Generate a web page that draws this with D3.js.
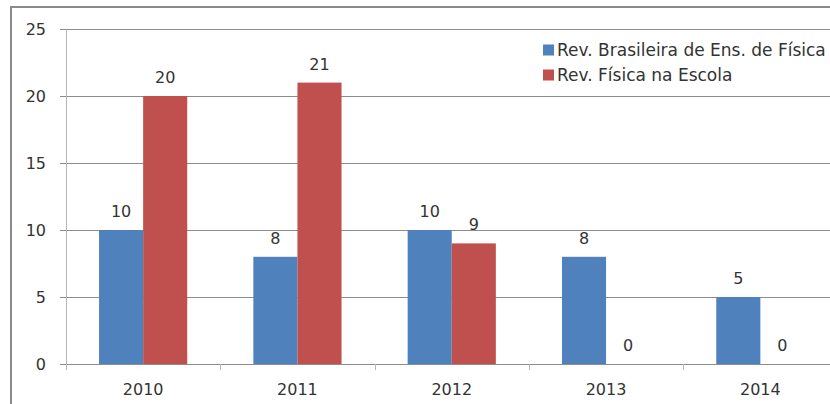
<!DOCTYPE html>
<meta charset="utf-8">
<style>
  body { margin: 0; background: #fff; }
  svg { display: block; font-family: "DejaVu Sans", sans-serif; }
  .grid line { stroke: #8c8c8c; stroke-width: 1; }
  .axis text { fill: #333; font-size: 16px; }
  .lbl { fill: #333; font-size: 16px; text-anchor: middle; }
  .legend text { fill: #333; font-size: 17px; }
</style>
<body>
<script src="https://d3js.org/d3.v7.min.js"></script>
<script>
var years = ["2010", "2011", "2012", "2013", "2014"];
var seriesNames = ["Rev. Brasileira de Ens. de Física", "Rev. Física na Escola"];
var rbef = [10, 8, 10, 8, 5];
var fne = [20, 21, 9, 0, 0];
var yTicks = [0, 5, 10, 15, 20, 25];
var colors = ["#4f81bd", "#c0504d"];

var width = 830, height = 404;

var svg = d3.select("body").append("svg")
    .attr("width", width)
    .attr("height", height);

// outer frame (runs off the right and bottom edges)
svg.append("rect")
    .attr("x", 11).attr("y", 7)
    .attr("width", 900).attr("height", 450)
    .attr("fill", "none")
    .attr("stroke", "#8a8a8a")
    .attr("stroke-width", 2);

var x0 = 66, catW = 154.3;
var x = d3.scaleBand()
    .domain(years)
    .range([x0, x0 + catW * years.length])
    .paddingInner(0)
    .paddingOuter(0);

var x1 = d3.scaleBand()
    .domain([0, 1])
    .range([0, x.bandwidth()])
    .paddingOuter(0.75)
    .paddingInner(0);

var y = d3.scaleLinear()
    .domain([0, 25])
    .range([364, 29]);

// gridlines
svg.append("g").attr("class", "grid")
  .selectAll("line")
    .data(yTicks)
  .enter().append("line")
    .attr("x1", 60).attr("x2", width)
    .attr("y1", function(d) { return Math.round(y(d)) + 0.5; })
    .attr("y2", function(d) { return Math.round(y(d)) + 0.5; });

// y axis line
svg.append("line")
    .attr("x1", x0 + 0.5).attr("x2", x0 + 0.5)
    .attr("y1", y(25)).attr("y2", y(0) + 6)
    .attr("stroke", "#b5b5b5");

// category ticks
svg.append("g")
  .selectAll("line")
    .data(years.slice(1))
  .enter().append("line")
    .attr("x1", function(d) { return Math.round(x(d)) + 0.5; })
    .attr("x2", function(d) { return Math.round(x(d)) + 0.5; })
    .attr("y1", y(0)).attr("y2", y(0) + 6)
    .attr("stroke", "#b5b5b5");

// y tick labels
svg.append("g").attr("class", "axis")
  .selectAll("text")
    .data(yTicks)
  .enter().append("text")
    .attr("x", 46)
    .attr("y", function(d) { return y(d); })
    .attr("dy", "0.36em")
    .attr("text-anchor", "end")
    .text(function(d) { return d; });

// x labels
svg.append("g").attr("class", "axis")
  .selectAll("text")
    .data(years)
  .enter().append("text")
    .attr("x", function(d) { return x(d) + x.bandwidth() / 2; })
    .attr("y", 395)
    .attr("text-anchor", "middle")
    .text(function(d) { return d; });

var series = [rbef, fne];

series.forEach(function(vals, s) {
  var g = svg.append("g");
  g.selectAll("rect")
      .data(vals)
    .enter().append("rect")
      .attr("x", function(d, i) { return x(years[i]) + x1(s); })
      .attr("y", function(d) { return y(d); })
      .attr("width", x1.bandwidth())
      .attr("height", function(d) { return y(0) - y(d); })
      .attr("fill", colors[s]);

  g.selectAll("text")
      .data(vals)
    .enter().append("text")
      .attr("class", "lbl")
      .attr("x", function(d, i) { return x(years[i]) + x1(s) + x1.bandwidth() / 2; })
      .attr("y", function(d) { return y(d) - 13; })
      .text(function(d) { return d; });
});

// legend
var legend = svg.append("g").attr("class", "legend")
  .selectAll("g")
    .data(seriesNames)
  .enter().append("g")
    .attr("transform", function(d, i) { return "translate(543," + (50 + i * 25) + ")"; });

legend.append("rect")
    .attr("x", 0).attr("y", -5.5)
    .attr("width", 11).attr("height", 11)
    .attr("fill", function(d, i) { return colors[i]; });

legend.append("text")
    .attr("x", 14)
    .attr("dy", "0.36em")
    .text(function(d) { return d; });
</script>
</body>
</html>
